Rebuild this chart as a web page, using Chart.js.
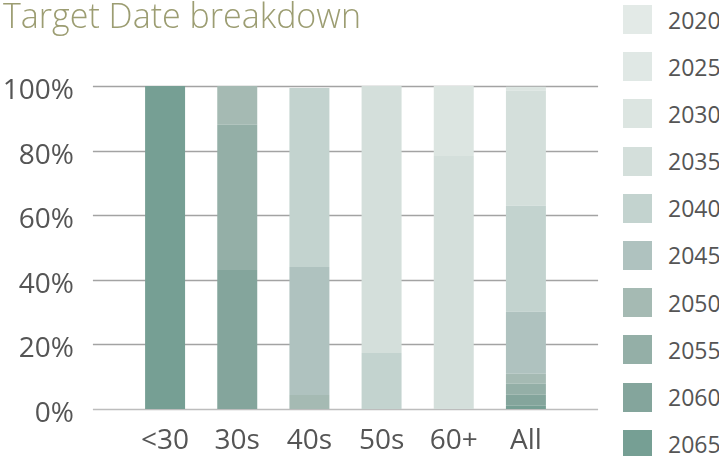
<!DOCTYPE html>
<html>
<head>
<meta charset="utf-8">
<script src="https://cdn.jsdelivr.net/npm/chart.js@4.4.1/dist/chart.umd.min.js"></script>
<style>
  body { margin: 0; background: #fff; }
  #wrap { position: relative; width: 719px; height: 456px; overflow: hidden; }
  #breakdown { position: absolute; left: 0; top: 0; }
  #legend { position: absolute; left: 623px; top: 5px; margin: 0; padding: 0; list-style: none;
            font-family: "Open Sans", sans-serif; font-size: 23px; color: #555; }
  #legend li { display: flex; align-items: center; height: 29px; margin-bottom: 18.2px; }
  #legend .swatch { width: 29px; height: 29px; margin-right: 16px; flex: none; }
</style>
</head>
<body>
<div id="wrap">
  <canvas id="breakdown" width="600" height="456"></canvas>
  <ul id="legend"></ul>
</div>
<script>
var ageGroups = ['<30', '30s', '40s', '50s', '60+', 'All'];
var yTicks = [0, 20, 40, 60, 80, 100];

// share of each target-date fund per age group, in %
var fund2065 = [100, 0, 0, 0, 0, 1.0];
var fund2060 = [0, 43, 0, 0, 0, 3.4];
var fund2055 = [0, 45, 0, 0, 0, 3.4];
var fund2050 = [0, 12, 4.3, 0, 0, 3.1];
var fund2045 = [0, 0, 39.7, 0, 0, 19.2];
var fund2040 = [0, 0, 55.4, 17.3, 0, 32.8];
var fund2035 = [0, 0, 0, 82.7, 78.3, 35.7];
var fund2030 = [0, 0, 0, 0, 21.7, 1.2];
var fund2025 = [0, 0, 0, 0, 0, 0];
var fund2020 = [0, 0, 0, 0, 0, 0];

var funds = [
  { label: '2065', data: fund2065, color: '#769f94' },
  { label: '2060', data: fund2060, color: '#84a59c' },
  { label: '2055', data: fund2055, color: '#94afa7' },
  { label: '2050', data: fund2050, color: '#a5bab3' },
  { label: '2045', data: fund2045, color: '#afc2bf' },
  { label: '2040', data: fund2040, color: '#c3d3cf' },
  { label: '2035', data: fund2035, color: '#d4dfdb' },
  { label: '2030', data: fund2030, color: '#dce5e1' },
  { label: '2025', data: fund2025, color: '#e0e8e5' },
  { label: '2020', data: fund2020, color: '#e3eae7' }
];

var labelFont = { family: '"Open Sans", sans-serif', size: 28 };

// horizontal rules that run half a slot past the outer bars
var wideGrid = {
  id: 'wideGrid',
  beforeDatasetsDraw: function(chart) {
    var ctx = chart.ctx, area = chart.chartArea;
    var x = chart.scales.x, y = chart.scales.y;
    var half = (x.getPixelForValue(1) - x.getPixelForValue(0)) / 2;
    ctx.save();
    ctx.lineWidth = 1.5;
    y.ticks.forEach(function(t) {
      var py = Math.round(y.getPixelForValue(t.value)) + 0.5;
      ctx.strokeStyle = t.value === 0 ? '#bdbdbd' : '#a3a3a3';
      ctx.beginPath();
      ctx.moveTo(area.left - half, py);
      ctx.lineTo(area.right + half, py);
      ctx.stroke();
    });
    ctx.restore();
  }
};

var ctx = document.getElementById('breakdown').getContext('2d');
var breakdownChart = new Chart(ctx, {
  type: 'bar',
  data: {
    labels: ageGroups,
    datasets: funds.map(function(f) {
      return {
        label: f.label,
        data: f.data,
        backgroundColor: f.color,
        borderWidth: 0,
        barPercentage: 0.554,
        categoryPercentage: 1
      };
    })
  },
  options: {
    responsive: false,
    animation: false,
    devicePixelRatio: 1,
    layout: { padding: { left: 3, right: 38 } },
    plugins: {
      legend: { display: false },
      tooltip: { enabled: false },
      title: {
        display: true,
        text: 'Target Date breakdown',
        align: 'start',
        color: '#9c9d72',
        font: { family: '"Open Sans", sans-serif', size: 34, weight: 300, lineHeight: 1 },
        padding: { top: 1, bottom: 51 }
      }
    },
    scales: {
      x: {
        stacked: true,
        grid: { display: false, drawTicks: false },
        border: { display: false },
        ticks: { color: '#555', font: labelFont, padding: 15 },
        afterFit: function(scale) { scale.height = 47; }
      },
      y: {
        stacked: true,
        min: 0,
        max: 100,
        afterBuildTicks: function(scale) {
          scale.ticks = yTicks.map(function(v) { return { value: v }; });
        },
        grid: { display: false, drawTicks: false },
        border: { display: false },
        ticks: {
          color: '#555',
          font: labelFont,
          padding: 55,
          labelOffset: 5,
          callback: function(v) { return v + '%'; }
        },
        afterFit: function(scale) {
          // wide label gap should not push the plot up from the bottom
          scale.width = 126;
          scale.paddingTop = 17;
          scale.paddingBottom = 17;
        }
      }
    }
  },
  plugins: [wideGrid]
});

// legend column, newest fund on top
var legendEl = document.getElementById('legend');
funds.slice().reverse().forEach(function(f) {
  var li = document.createElement('li');
  var sw = document.createElement('span');
  sw.className = 'swatch';
  sw.style.background = f.color;
  li.appendChild(sw);
  li.appendChild(document.createTextNode(f.label));
  legendEl.appendChild(li);
});
</script>
</body>
</html>
